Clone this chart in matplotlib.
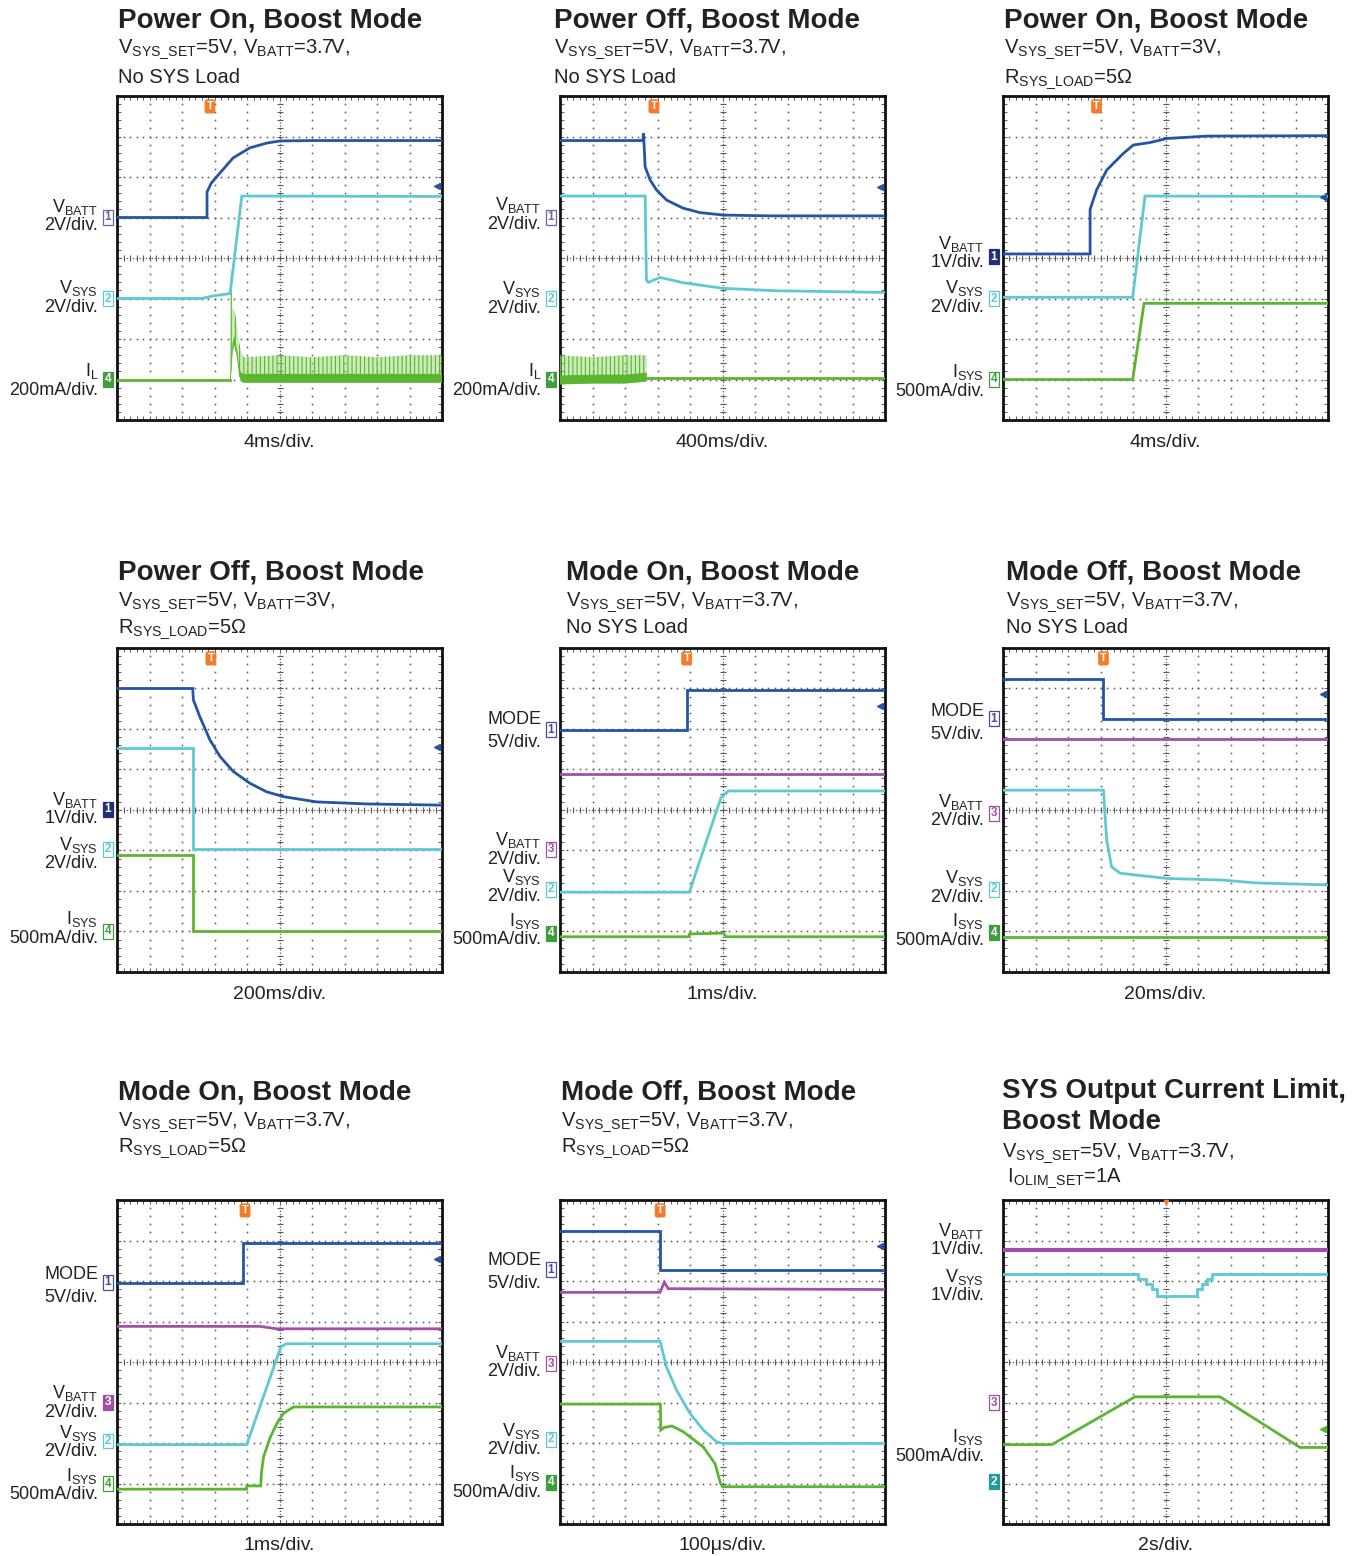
import numpy as np
import matplotlib
matplotlib.use('Agg')
import matplotlib.pyplot as plt
from matplotlib.transforms import blended_transform_factory

plt.rcParams['font.family'] = ['Liberation Sans', 'DejaVu Sans']
plt.rcParams['mathtext.fontset'] = 'custom'
plt.rcParams['mathtext.rm'] = 'Liberation Sans'
plt.rcParams['mathtext.it'] = 'Liberation Sans:italic'
plt.rcParams['mathtext.bf'] = 'Liberation Sans:bold'
plt.rcParams['hatch.linewidth'] = 0.8

# ---------------- colours ----------------
BLUE = '#2455a4'
CYAN = '#5ec8d3'
GREEN = '#5cb531'
GREEN_L = '#8fd46a'
PURPLE = '#a34ea9'
ORANGE = '#f47c2c'
NAVY = '#1f2f7a'
TEAL = '#1e9aa0'
GRID = '#5a5a5a'

# ---------------- data (in scope divisions: x 0..10, y 0..8) ----------------
# Panel 1: Power On, Boost Mode, VBATT=3.7V, no load
p1_vbatt_x = [0, 2.77, 2.77, 2.9, 3.17, 3.57, 4.09, 4.62, 5.02, 6.0, 10]
p1_vbatt_y = [5.0, 5.0, 5.63, 5.85, 6.10, 6.47, 6.72, 6.84, 6.89, 6.9, 6.9]
p1_vsys_x = [0, 2.6, 3.0, 3.48, 3.84, 10]
p1_vsys_y = [3.0, 3.0, 3.07, 3.12, 5.53, 5.52]
p1_il_x = [0, 3.47]
p1_il_y = [1.0, 1.0]
p1_il_band_x = [3.47, 3.5, 3.56, 3.62, 3.7, 3.76, 3.82, 3.9, 5, 6, 7, 8, 9, 10]
p1_il_band_hi = [1.0, 3.78, 2.75, 2.7, 2.3, 1.9, 1.7, 1.55, 1.6, 1.55, 1.6, 1.55, 1.6, 1.6]
p1_il_band_lo = [1.0, 1.0, 1.7, 1.85, 1.5, 1.1, 0.95, 0.92, 0.92, 0.92, 0.92, 0.92, 0.92, 0.92]

# Panel 2: Power Off, Boost Mode, VBATT=3.7V, no load
p2_vbatt_x = [0, 2.55, 2.57, 2.62, 2.77, 2.97, 3.28, 3.79, 4.31, 5.03, 6.5, 10]
p2_vbatt_y = [6.9, 6.9, 7.08, 6.25, 5.93, 5.68, 5.43, 5.23, 5.12, 5.06, 5.04, 5.04]
p2_vsys_x = [0, 2.62, 2.66, 2.72, 3.08, 3.79, 5.03, 6.7, 10]
p2_vsys_y = [5.53, 5.53, 3.45, 3.40, 3.52, 3.39, 3.25, 3.19, 3.15]
p2_il_x = [2.67, 10]
p2_il_y = [1.03, 1.03]
p2_il_band_x = [0, 1.0, 2.0, 2.67]
p2_il_band_hi = [1.6, 1.55, 1.6, 1.6]
p2_il_band_lo = [0.88, 0.9, 0.9, 0.95]

# Panel 3: Power On, Boost Mode, VBATT=3V, 5 ohm
p3_vbatt_x = [0, 2.68, 2.68, 2.88, 3.19, 3.7, 4.01, 4.52, 5.04, 6.27, 10]
p3_vbatt_y = [4.1, 4.1, 5.2, 5.68, 6.17, 6.58, 6.79, 6.85, 6.95, 7.01, 7.02]
p3_vsys_x = [0, 3.99, 4.37, 10]
p3_vsys_y = [3.03, 3.03, 5.53, 5.52]
p3_isys_x = [0, 3.99, 4.34, 10]
p3_isys_y = [1.0, 1.0, 2.88, 2.88]

# Panel 4: Power Off, Boost Mode, VBATT=3V, 5 ohm
p4_vbatt_x = [0, 2.33, 2.35, 2.55, 2.86, 3.17, 3.58, 4.09, 4.6, 5.12, 6.14, 7.68, 10]
p4_vbatt_y = [7.0, 7.0, 6.72, 6.3, 5.73, 5.32, 4.95, 4.66, 4.45, 4.33, 4.2, 4.15, 4.12]
p4_vsys_x = [0, 2.35, 2.35, 10]
p4_vsys_y = [5.54, 5.54, 3.04, 3.04]
p4_isys_x = [0, 2.35, 2.35, 10]
p4_isys_y = [2.89, 2.89, 1.02, 1.02]

# Panel 5: Mode On, Boost Mode, no load
p5_mode_x = [0, 3.9, 3.9, 10]
p5_mode_y = [5.98, 5.98, 6.96, 6.96]
p5_vbatt_x = [0, 10]
p5_vbatt_y = [4.88, 4.88]
p5_vsys_x = [0, 3.98, 4.95, 5.18, 10]
p5_vsys_y = [1.97, 1.97, 4.3, 4.47, 4.47]
p5_isys_x = [0, 3.98, 3.98, 5.03, 5.1, 10]
p5_isys_y = [0.87, 0.87, 0.94, 0.96, 0.87, 0.87]

# Panel 6: Mode Off, Boost Mode, no load
p6_mode_x = [0, 3.09, 3.09, 10]
p6_mode_y = [7.23, 7.23, 6.25, 6.25]
p6_vbatt_x = [0, 10]
p6_vbatt_y = [5.76, 5.76]
p6_vsys_x = [0, 3.09, 3.19, 3.34, 3.6, 5.04, 6.75, 7.78, 10]
p6_vsys_y = [4.49, 4.49, 3.26, 2.6, 2.44, 2.31, 2.27, 2.2, 2.15]
p6_isys_x = [0, 10]
p6_isys_y = [0.87, 0.87]

# Panel 7: Mode On, Boost Mode, 5 ohm
p7_mode_x = [0, 3.89, 3.89, 10]
p7_mode_y = [5.94, 5.94, 6.95, 6.95]
p7_vbatt_x = [0, 4.4, 4.91, 10]
p7_vbatt_y = [4.88, 4.88, 4.82, 4.82]
p7_vsys_x = [0, 3.99, 5.04, 5.2, 10]
p7_vsys_y = [1.96, 1.96, 4.37, 4.45, 4.45]
p7_isys_x = [0, 3.99, 3.99, 4.42, 4.45, 4.51, 4.72, 4.92, 5.12, 5.43, 10]
p7_isys_y = [0.86, 0.86, 0.94, 0.94, 1.3, 1.66, 2.15, 2.48, 2.73, 2.89, 2.89]

# Panel 8: Mode Off, Boost Mode, 5 ohm
p8_mode_x = [0, 3.08, 3.08, 10]
p8_mode_y = [7.24, 7.24, 6.26, 6.26]
p8_vbatt_x = [0, 3.08, 3.21, 3.33, 10]
p8_vbatt_y = [5.72, 5.72, 5.97, 5.81, 5.79]
p8_vsys_x = [0, 3.08, 3.28, 3.59, 4.0, 4.41, 4.82, 5.0, 10]
p8_vsys_y = [4.51, 4.51, 3.87, 3.3, 2.73, 2.32, 2.03, 1.99, 1.99]
p8_isys_x = [0, 3.09, 3.1, 3.2, 3.44, 3.79, 4.41, 4.77, 4.94, 5.0, 10]
p8_isys_y = [2.96, 2.96, 2.32, 2.38, 2.42, 2.28, 1.9, 1.49, 1.0, 0.92, 0.92]

# Panel 9: SYS output current limit
p9_vbatt_x = [0, 10]
p9_vbatt_y = [6.77, 6.77]
p9_vsys_x = [0, 4.16, 4.4, 4.57, 4.73, 5.96, 6.11, 6.27, 6.42, 10]
p9_vsys_y = [6.17, 6.05, 5.93, 5.8, 5.64, 5.8, 5.93, 6.05, 6.17, 6.17]
p9_isys_x = [0, 1.5, 4.06, 6.68, 9.14, 10]
p9_isys_y = [1.96, 1.96, 3.14, 3.14, 1.89, 1.89]

# ---------------- text ----------------
SUB_37 = r'V$_{\mathrm{SYS\_SET}}$=5V, V$_{\mathrm{BATT}}$=3.7V,'
SUB_3 = r'V$_{\mathrm{SYS\_SET}}$=5V, V$_{\mathrm{BATT}}$=3V,'
NOLOAD = 'No SYS Load'
RLOAD = r'R$_{\mathrm{SYS\_LOAD}}$=5Ω'
N_VBATT = r'V$_{\mathrm{BATT}}$'
N_VSYS = r'V$_{\mathrm{SYS}}$'
N_ISYS = r'I$_{\mathrm{SYS}}$'
N_IL = r'I$_{\mathrm{L}}$'

W, H = 1367, 1556
PW, PH = 325, 324
fig = plt.figure(figsize=(W / 100, H / 100), dpi=100)
fig.patch.set_facecolor('white')


def fx(px):
    return px / W


def fy(py):
    return 1 - py / H


panels = [
    dict(L=117, T=96, title=['Power On, Boost Mode'], tx=118, ty=[28], sub=[SUB_37, NOLOAD], sy=[53, 83],
         xlabel='4ms/div.', xy=447,
         lines=[(p1_vbatt_x, p1_vbatt_y, BLUE), (p1_vsys_x, p1_vsys_y, CYAN), (p1_il_x, p1_il_y, GREEN)],
         band=(p1_il_band_x, p1_il_band_lo, p1_il_band_hi),
         labels=[(N_VBATT, '2V/div.', 5.02), (N_VSYS, '2V/div.', 3.0), (N_IL, '200mA/div.', 0.96)],
         marks=[('1', 5.0, '#6a64a8', False), ('2', 3.0, CYAN, False), ('4', 1.0, '#3d9e3a', True)],
         trig=2.86, arrows=[(5.78, BLUE)]),
    dict(L=560, T=96, title=['Power Off, Boost Mode'], tx=554, ty=[28], sub=[SUB_37, NOLOAD], sy=[53, 83],
         xlabel='400ms/div.', xy=447,
         lines=[(p2_vbatt_x, p2_vbatt_y, BLUE), (p2_vsys_x, p2_vsys_y, CYAN), (p2_il_x, p2_il_y, GREEN)],
         band=(p2_il_band_x, p2_il_band_lo, p2_il_band_hi),
         labels=[(N_VBATT, '2V/div.', 5.05), (N_VSYS, '2V/div.', 2.98), (N_IL, '200mA/div.', 0.96)],
         marks=[('1', 5.0, '#6a64a8', False), ('2', 2.99, CYAN, False), ('4', 1.01, '#3d9e3a', True)],
         trig=2.89, arrows=[(5.76, BLUE)]),
    dict(L=1003, T=96, title=['Power On, Boost Mode'], tx=1004, ty=[28], sub=[SUB_3, RLOAD], sy=[53, 83],
         xlabel='4ms/div.', xy=447,
         lines=[(p3_vbatt_x, p3_vbatt_y, BLUE), (p3_vsys_x, p3_vsys_y, CYAN), (p3_isys_x, p3_isys_y, GREEN)],
         band=None,
         labels=[(N_VBATT, '1V/div.', 4.1), (N_VSYS, '2V/div.', 3.01), (N_ISYS, '500mA/div.', 0.93)],
         marks=[('1', 4.03, NAVY, True), ('2', 2.99, CYAN, False), ('4', 1.0, '#3d9e3a', False)],
         trig=2.88, arrows=[(5.51, BLUE)]),
    dict(L=117, T=648, title=['Power Off, Boost Mode'], tx=118, ty=[580], sub=[SUB_3, RLOAD], sy=[606, 633],
         xlabel='200ms/div.', xy=999,
         lines=[(p4_vbatt_x, p4_vbatt_y, BLUE), (p4_vsys_x, p4_vsys_y, CYAN), (p4_isys_x, p4_isys_y, GREEN)],
         band=None,
         labels=[(N_VBATT, '1V/div.', 4.0), (N_VSYS, '2V/div.', 2.9), (N_ISYS, '500mA/div.', 1.05)],
         marks=[('1', 4.02, NAVY, True), ('2', 3.03, CYAN, False), ('4', 1.01, '#3d9e3a', False)],
         trig=2.89, arrows=[(5.55, BLUE)]),
    dict(L=560, T=648, title=['Mode On, Boost Mode'], tx=566, ty=[580], sub=[SUB_37, NOLOAD], sy=[606, 633],
         xlabel='1ms/div.', xy=999,
         lines=[(p5_mode_x, p5_mode_y, BLUE), (p5_vbatt_x, p5_vbatt_y, PURPLE), (p5_vsys_x, p5_vsys_y, CYAN),
                (p5_isys_x, p5_isys_y, GREEN)],
         band=None,
         labels=[('MODE', '5V/div.', 5.94), (N_VBATT, '2V/div.', 3.01), (N_VSYS, '2V/div.', 2.09),
                 (N_ISYS, '500mA/div.', 1.02)],
         marks=[('1', 5.98, '#4a4aa0', False), ('3', 3.03, PURPLE, False), ('2', 2.04, CYAN, False),
                ('4', 0.96, '#3d9e3a', True)],
         trig=3.9, arrows=[(6.57, BLUE)]),
    dict(L=1003, T=648, title=['Mode Off, Boost Mode'], tx=1006, ty=[580], sub=[SUB_37, NOLOAD], sy=[606, 633],
         xlabel='20ms/div.', xy=999,
         lines=[(p6_mode_x, p6_mode_y, BLUE), (p6_vbatt_x, p6_vbatt_y, PURPLE), (p6_vsys_x, p6_vsys_y, CYAN),
                (p6_isys_x, p6_isys_y, GREEN)],
         band=None,
         labels=[('MODE', '5V/div.', 6.14), (N_VBATT, '2V/div.', 3.96), (N_VSYS, '2V/div.', 2.07),
                 (N_ISYS, '500mA/div.', 1.01)],
         marks=[('1', 6.25, '#4a4aa0', False), ('3', 3.92, PURPLE, False), ('2', 2.04, CYAN, False),
                ('4', 0.97, '#3d9e3a', True)],
         trig=3.09, arrows=[(6.86, BLUE)]),
    dict(L=117, T=1200, title=['Mode On, Boost Mode'], tx=118, ty=[1100], sub=[SUB_37, RLOAD], sy=[1126, 1152],
         xlabel='1ms/div.', xy=1550,
         lines=[(p7_mode_x, p7_mode_y, BLUE), (p7_vbatt_x, p7_vbatt_y, PURPLE), (p7_vsys_x, p7_vsys_y, CYAN),
                (p7_isys_x, p7_isys_y, GREEN)],
         band=None,
         labels=[('MODE', '5V/div.', 5.86), (N_VBATT, '2V/div.', 2.98), (N_VSYS, '2V/div.', 2.01),
                 (N_ISYS, '500mA/div.', 0.94)],
         marks=[('1', 5.97, '#4a4aa0', False), ('3', 3.01, PURPLE, True), ('2', 2.05, CYAN, False),
                ('4', 0.99, '#3d9e3a', False)],
         trig=3.94, arrows=[(6.54, BLUE)]),
    dict(L=560, T=1200, title=['Mode Off, Boost Mode'], tx=561, ty=[1100], sub=[SUB_37, RLOAD], sy=[1126, 1152],
         xlabel='100μs/div.', xy=1550,
         lines=[(p8_mode_x, p8_mode_y, BLUE), (p8_vbatt_x, p8_vbatt_y, PURPLE), (p8_vsys_x, p8_vsys_y, CYAN),
                (p8_isys_x, p8_isys_y, GREEN)],
         band=None,
         labels=[('MODE', '5V/div.', 6.22), (N_VBATT, '2V/div.', 3.98), (N_VSYS, '2V/div.', 2.05),
                 (N_ISYS, '500mA/div.', 1.01)],
         marks=[('1', 6.28, '#4a4aa0', False), ('3', 3.96, PURPLE, False), ('2', 2.09, CYAN, False),
                ('4', 1.03, '#3d9e3a', True)],
         trig=3.08, arrows=[(6.87, BLUE)]),
    dict(L=1003, T=1200, title=['SYS Output Current Limit,', 'Boost Mode'], tx=1002, ty=[1098, 1129],
         sub=[SUB_37, r' I$_{\mathrm{OLIM\_SET}}$=1A'], sy=[1157, 1182],
         xlabel='2s/div.', xy=1550,
         lines=[(p9_vbatt_x, p9_vbatt_y, PURPLE), (p9_vsys_x, p9_vsys_y, CYAN), (p9_isys_x, p9_isys_y, GREEN)],
         steps=[False, True, False],
         band=None,
         labels=[(N_VBATT, '1V/div.', 6.99), (N_VSYS, '1V/div.', 5.86), (N_ISYS, '500mA/div.', 1.89)],
         marks=[('3', 3.0, PURPLE, False), ('2', 1.04, TEAL, True)],
         trig=None, trigdot=5.0, arrows=[(2.34, GREEN)]),
]

xs_minor = np.round(np.arange(0, 10.001, 0.2), 3)
ys_minor = np.round(np.arange(0, 8.001, 0.2), 3)

for cfg in panels:
    L, T = cfg['L'], cfg['T']
    ax = fig.add_axes([fx(L), fy(T + PH), PW / W, PH / H])
    ax.set_xlim(0, 10)
    ax.set_ylim(0, 8)
    ax.set_xticks([])
    ax.set_yticks([])
    ax.set_xticks(xs_minor, minor=True)
    ax.set_yticks(ys_minor, minor=True)
    ax.tick_params(which='minor', direction='in', length=3.0, width=0.7, top=True, right=True,
                   bottom=True, left=True, labelbottom=False, labelleft=False, color=GRID)
    for s in ax.spines.values():
        s.set_linewidth(2.0)
        s.set_color('#111111')

    # dotted graticule
    for gy in range(1, 8):
        if gy == 4:
            continue
        ax.plot(xs_minor, np.full(len(xs_minor), gy), ls='none', marker='s', ms=1.15, mew=0, color=GRID, zorder=1)
    for gx in range(1, 10):
        if gx == 5:
            continue
        ax.plot(np.full(len(ys_minor), gx), ys_minor, ls='none', marker='s', ms=1.15, mew=0, color=GRID, zorder=1)
    ax.axhline(4, color=GRID, lw=0.9, ls=(0, (1, 1.5)), zorder=1)
    ax.axvline(5, color=GRID, lw=0.9, ls=(0, (1, 1.5)), zorder=1)
    ax.plot(xs_minor, np.full(len(xs_minor), 4), ls='none', marker='|', ms=4.5, mew=0.8, color=GRID, zorder=1)
    ax.plot(np.full(len(ys_minor), 5), ys_minor, ls='none', marker='_', ms=4.5, mew=0.8, color=GRID, zorder=1)

    # noise band
    if cfg['band'] is not None:
        bx, blo, bhi = cfg['band']
        ax.fill_between(bx, blo, bhi, facecolor=GREEN_L, alpha=0.45, lw=0, zorder=3)
        ax.fill_between(bx, blo, bhi, facecolor='none', edgecolor=GREEN, hatch='||||', lw=0, zorder=3)
        ax.fill_between(bx, blo, [min(h, l + 0.22) if h > l else l for l, h in zip(blo, bhi)],
                        facecolor=GREEN, lw=0, zorder=3)

    steps = cfg.get('steps', [False] * len(cfg['lines']))
    for (x, y, c), st in zip(cfg['lines'], steps):
        lw = 3.0 if (c == PURPLE and cfg['L'] == 1003 and cfg['T'] == 1200) else 2.0
        ax.plot(x, y, color=c, lw=lw, solid_joinstyle='miter',
                drawstyle='steps-post' if st else 'default', zorder=4)

    # left labels
    for name, scale, yc in cfg['labels']:
        up, dn = (12, -11) if name == 'MODE' else (10, -9)
        ax.annotate(name, xy=(0, yc), xycoords=('axes fraction', 'data'), xytext=(-13.5, up * 0.72),
                    textcoords='offset points', ha='right', va='center', fontsize=13, color='#222222')
        ax.annotate(scale, xy=(0, yc), xycoords=('axes fraction', 'data'), xytext=(-13.5, dn * 0.72),
                    textcoords='offset points', ha='right', va='center', fontsize=13, color='#222222')

    # channel markers
    for lab, ym, col, filled in cfg['marks']:
        ax.annotate(lab, xy=(0, ym), xycoords=('axes fraction', 'data'), xytext=(-6.5, 0),
                    textcoords='offset points', ha='center', va='center', fontsize=8.5,
                    color='white' if filled else col, fontweight='bold',
                    bbox=dict(boxstyle='square,pad=0.12', fc=col if filled else 'white', ec=col, lw=0.9),
                    annotation_clip=False, zorder=6)

    # trigger marker
    if cfg.get('trig') is not None:
        ax.annotate('T', xy=(cfg['trig'], 1), xycoords=('data', 'axes fraction'), xytext=(0, -7.5),
                    textcoords='offset points', ha='center', va='center', fontsize=8, color='white',
                    fontweight='bold', bbox=dict(boxstyle='round,pad=0.15', fc=ORANGE, ec=ORANGE, lw=0.5),
                    zorder=6)
    if cfg.get('trigdot') is not None:
        tr = blended_transform_factory(ax.transData, ax.transAxes)
        ax.plot([cfg['trigdot']], [0.995], transform=tr, marker='v', ms=3, color=ORANGE, zorder=6, clip_on=False)

    # right-edge reference arrows
    trr = blended_transform_factory(ax.transAxes, ax.transData)
    for ya, ca in cfg['arrows']:
        ax.plot([0.986], [ya], transform=trr, marker='<', ms=4, color=ca, zorder=6)

    # titles
    for t, ty in zip(cfg['title'], cfg['ty']):
        fig.text(fx(cfg['tx']), fy(ty), t, fontsize=20, fontweight='bold', ha='left', va='baseline',
                 color='#222222')
    for s, sy in zip(cfg['sub'], cfg['sy']):
        fig.text(fx(cfg['tx']), fy(sy), s, fontsize=14.5, ha='left', va='baseline', color='#222222')
    fig.text(fx(L + PW / 2), fy(cfg['xy']), cfg['xlabel'], fontsize=14, ha='center', va='baseline',
             color='#222222')

fig.savefig('out.png', dpi=100, facecolor='white')
